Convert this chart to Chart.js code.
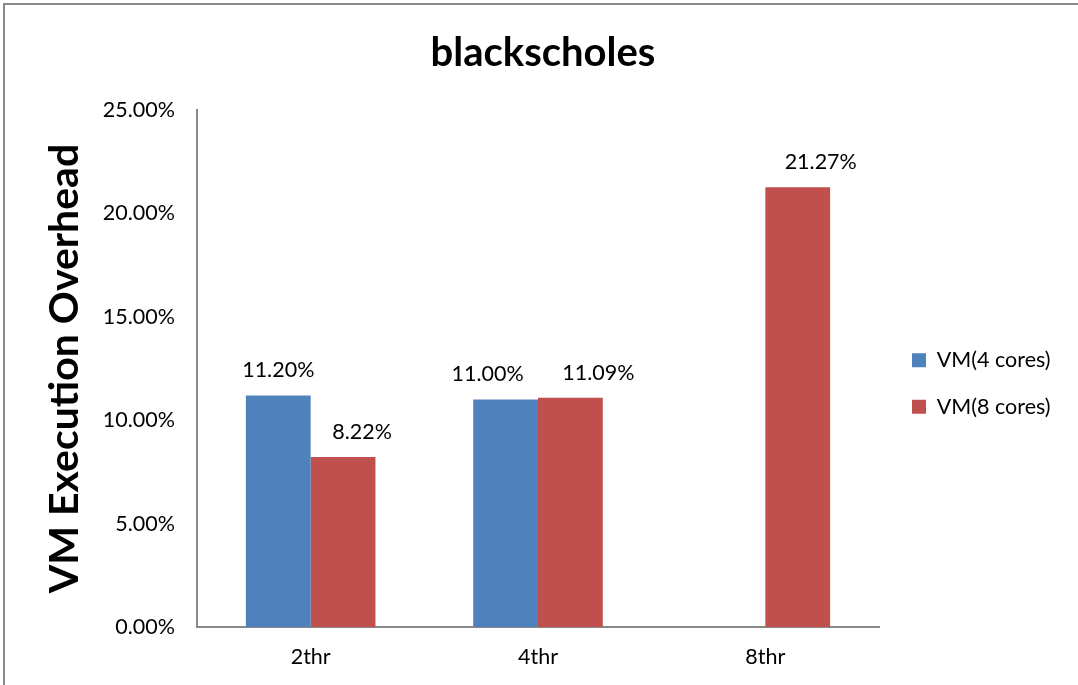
<!DOCTYPE html>
<html>
<head>
<meta charset="utf-8">
<script src="https://cdn.jsdelivr.net/npm/chart.js@4/dist/chart.umd.min.js"></script>
<style>
  html, body { margin: 0; padding: 0; background: #fff; overflow: hidden; }
  #frame {
    position: absolute; left: 3px; top: 3px; width: 2000px; height: 2000px;
    border-left: 2px solid #8a8a8a; border-top: 2px solid #8a8a8a;
    pointer-events: none;
  }
</style>
</head>
<body>
<canvas id="grafico" width="1078" height="685"></canvas>
<div id="frame"></div>
<script>
const categorie = ["2thr", "4thr", "8thr"];
const serie = ["VM(4 cores)", "VM(8 cores)"];
const vm4 = [11.20, 11.00, null];
const vm8 = [8.22, 11.09, 21.27];
const colori = ["#4F81BD", "#C0504D"];
const yTicks = [0, 5, 10, 15, 20, 25];

const FONT = "Lato, 'Open Sans', sans-serif";

// etichette sopra le barre (spostamento orizzontale come nell'originale)
const etichette = {
  id: "etichette",
  afterDatasetsDraw(chart, args, opts) {
    const ctx = chart.ctx;
    ctx.save();
    ctx.font = opts.size + "px " + FONT;
    ctx.fillStyle = "#000";
    ctx.textAlign = "center";
    ctx.textBaseline = "middle";
    chart.data.datasets.forEach((ds, i) => {
      const meta = chart.getDatasetMeta(i);
      meta.data.forEach((bar, j) => {
        const v = ds.data[j];
        if (v === null || v === undefined) return;
        const dx = (opts.dx[i] && opts.dx[i][j]) || 0;
        ctx.fillText(v.toFixed(2) + "%", bar.x + dx, bar.y - 25);
      });
    });
    ctx.restore();
  }
};

// legenda: larghezza fissa e posizione come in Excel
const legendaPos = {
  id: "legendaPos",
  beforeLayout(chart) {
    const lg = chart.legend;
    if (lg && !lg._fisso) {
      const fit = lg.fit;
      lg.fit = function () { fit.call(this); this.width = 199; };
      lg._fisso = true;
    }
  },
  afterLayout(chart, args, opts) {
    const lg = chart.legend;
    lg.left += opts.dx; lg.right += opts.dx;
    lg.top += opts.dy; lg.bottom += opts.dy;
  }
};

new Chart(document.getElementById("grafico"), {
  type: "bar",
  data: {
    labels: categorie,
    datasets: [
      { label: serie[0], data: vm4, backgroundColor: colori[0] },
      { label: serie[1], data: vm8, backgroundColor: colori[1] }
    ]
  },
  plugins: [etichette, legendaPos],
  options: {
    responsive: false,
    animation: false,
    layout: { padding: { left: 8, right: 0, top: 0, bottom: 0 } },
    datasets: { bar: { categoryPercentage: 0.57, barPercentage: 1 } },
    plugins: {
      etichette: { size: 21.5, dx: [[0, -18, 0], [19, 28, 23]] },
      legendaPos: { dx: 8, dy: 41 },
      title: {
        display: true,
        text: "blackscholes",
        color: "#000",
        font: { family: FONT, size: 40, weight: "bold" },
        padding: { top: 29, bottom: 33 }
      },
      legend: {
        position: "right",
        labels: {
          color: "#000",
          font: { family: FONT, size: 21.5 },
          boxWidth: 14,
          boxHeight: 14,
          padding: 25
        }
      },
      tooltip: { enabled: false }
    },
    scales: {
      x: {
        grid: { display: false, drawTicks: false },
        border: { color: "#888", width: 2 },
        ticks: { color: "#000", font: { family: FONT, size: 21.5 }, padding: 17 },
        afterFit(s) { s.height = 58; }
      },
      y: {
        min: 0,
        max: 25,
        afterBuildTicks(s) { s.ticks = yTicks.map(v => ({ value: v })); },
        grid: { display: false, drawTicks: false },
        border: { color: "#888", width: 2 },
        ticks: {
          color: "#000",
          font: { family: FONT, size: 21.5 },
          padding: 22,
          callback: v => v.toFixed(2) + "%"
        },
        title: {
          display: true,
          text: "VM Execution Overhead",
          color: "#000",
          font: { family: FONT, size: 41, weight: "bold" },
          padding: { top: 32, bottom: 0 }
        },
        afterFit(s) { s.width = 189; }
      }
    }
  }
});
</script>
</body>
</html>
